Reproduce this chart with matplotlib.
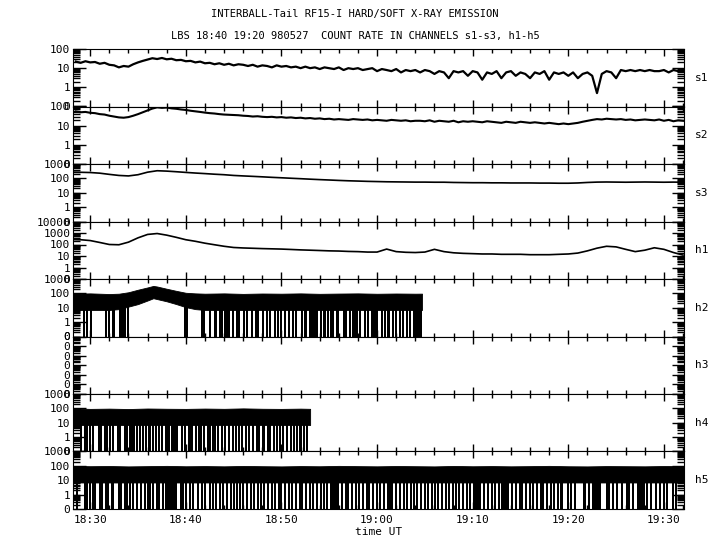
import numpy as np
import matplotlib.pyplot as plt
from matplotlib.ticker import FixedLocator, LogLocator, NullFormatter

plt.rcParams['font.family'] = 'DejaVu Sans Mono'

# time in minutes after 18:00 UT
t_fine = np.arange(28.5, 92.01, 0.5)
t_coarse = np.arange(28, 92.01, 1.0)

# soft channels (counts)
s1 = [22, 19, 23, 20, 21, 17, 19, 15, 14, 11, 13, 12,
      16, 20, 24, 28, 33, 30, 34, 29, 31, 26, 27, 23,
      24, 20, 22, 18, 19, 16, 18, 15, 17, 14, 16, 15,
      13, 15, 12, 14, 13, 11, 14, 12, 13, 11, 12, 10,
      12, 10, 11, 9, 11, 10, 9, 11, 8, 10, 9, 10,
      8, 9, 10, 7, 9, 8, 7, 9, 6, 8, 7, 8,
      6, 8, 7, 5, 7, 6, 3, 7, 6, 7, 4, 7,
      6, 2.5, 6, 5, 7, 3, 6, 7, 4, 6, 5, 3,
      6, 5, 7, 2.5, 6, 5, 6, 4, 6, 3, 5, 6,
      4, 0.5, 5, 7, 6, 3, 8, 7, 8, 7, 8, 7,
      8, 7, 7, 8, 6, 8, 7, 7]
s2 = [55, 50, 52, 47, 45, 40, 38, 33, 30, 27, 26, 28,
      33, 40, 50, 62, 78, 90, 85, 88, 80, 76, 70, 66,
      60, 56, 52, 48, 45, 43, 40, 38, 37, 36, 35, 33,
      32, 30, 31, 29, 28, 29, 27, 28, 26, 27, 25, 26,
      24, 25, 23, 24, 22, 23, 21, 22, 21, 20, 22, 21,
      20, 21, 19, 20, 19, 18, 20, 19, 18, 19, 17, 18,
      18, 17, 19, 16, 18, 17, 16, 18, 15, 17, 16, 17,
      16, 15, 17, 16, 15, 14, 16, 15, 14, 16, 15, 14,
      15, 14, 13, 14, 13, 12, 13, 12, 13, 14, 16, 18,
      20, 22, 21, 23, 22, 21, 22, 20, 21, 19, 20, 21,
      20, 19, 21, 18, 20, 17, 19, 18]
s3 = [270, 265, 255, 230, 190, 160, 148, 180, 270, 340, 320, 290, 260,
      235, 215, 195, 180, 160, 148, 138, 128, 118, 110, 102, 95, 88,
      82, 77, 72, 68, 65, 62, 60, 58, 57, 56, 55, 55, 54, 54, 52,
      51, 50, 50, 49, 49, 48, 48, 48, 47, 47, 46, 46, 48, 52, 55,
      56, 55, 54, 55, 56, 55, 54, 55, 54]
h1 = [280, 260, 220, 150, 100, 95, 160, 380, 750, 900, 650, 420, 260,
      190, 130, 95, 70, 55, 50, 47, 44, 42, 40, 37, 34, 32,
      30, 28, 27, 25, 24, 22, 22, 40, 24, 21, 20, 22, 38, 24, 19,
      17, 16, 15, 15, 14, 14, 14, 13, 13, 13, 14, 15, 18, 28, 48,
      70, 62, 38, 24, 32, 52, 38, 20, 12]

# hard channels: band envelope (counts) and times where the rate drops to 0
h2_t = [28.2, 30, 32, 33, 34, 35, 36, 36.6, 37, 38, 39, 40, 41, 42, 44,
        46, 48, 50, 52, 54, 56, 58, 60, 62, 64, 64.7]
h2_top = [95, 100, 90, 95, 120, 180, 260, 330, 300, 210, 150, 110, 100, 95, 100,
          92, 98, 95, 100, 93, 97, 100, 94, 98, 95, 96]
h2_bot = [7, 7, 7, 8, 12, 18, 32, 46, 40, 28, 18, 11, 8, 7, 7,
          7, 7, 7, 7, 7, 7, 7, 7, 7, 7, 7]
h2_drops = [29.4, 29.7, 30.1, 31.7, 31.95, 32.4, 32.5, 33.1, 33.3, 33.5, 33.6, 34.0,
            39.9, 40.1, 41.7, 41.8, 41.9, 42.5, 43.0, 43.2, 43.6, 43.8, 44.1, 44.2,
            44.35, 44.5, 44.9, 45.3, 45.6, 46.1, 46.4, 46.9, 47.3, 47.6, 48.1, 48.5,
            48.8, 49.3, 49.6, 50.0, 50.4, 50.8, 51.2, 51.5, 52.1, 52.5, 52.6, 53.0,
            53.2, 53.3, 53.5, 53.7, 54.1, 54.4, 54.6, 54.9, 55.2, 55.4, 55.8, 55.9,
            56.5, 56.8, 57.2, 57.5, 57.7, 57.9, 58.2, 58.7, 59.1, 60.5, 60.8, 61.1,
            61.3, 61.7, 62.0, 62.4, 62.7, 63.1, 63.4]
h2_spans = [(59.4, 60.1), (63.8, 64.7)]

h4_t = [28.2, 30, 32, 34, 36, 38, 40, 42, 44, 46, 48, 50, 52, 53.0]
h4_top = [100, 92, 96, 90, 98, 94, 92, 97, 93, 100, 94, 92, 96, 93]
h4_bot = [7, 7, 7, 7, 7, 7, 7, 7, 7, 7, 7, 7, 7, 7]
h4_drops = [29.0, 29.5, 29.7, 30.0, 30.3, 30.9, 31.1, 31.5, 31.8, 32.1, 32.4, 32.9,
            33.1, 33.6, 33.8, 34.2, 34.4, 34.6, 34.9, 35.2, 35.5, 35.8, 36.1, 36.3,
            36.6, 36.9, 37.2, 37.5, 39.6, 39.9, 41.1, 41.4, 41.6, 41.9, 42.3, 42.5,
            42.8, 43.1, 43.4, 43.8, 44.1, 44.5, 44.9, 45.2, 45.6, 45.9, 46.3, 46.6,
            47.0, 47.4, 47.7, 48.6, 48.8, 49.2, 49.5, 49.9, 50.2, 50.6, 51.0, 51.3,
            51.6, 52.4, 52.7]
h4_spans = [(37.8, 38.3), (38.5, 39.2), (40.2, 40.8), (48.0, 48.3), (51.8, 52.2)]

h5_t = [28.2, 30, 32, 34, 36, 38, 40, 42, 44, 46, 48, 50, 52, 54, 56, 58, 60,
        62, 64, 66, 68, 70, 72, 74, 76, 78, 80, 82, 84, 86, 88, 90, 92.1]
h5_top = [100, 95, 98, 92, 96, 100, 94, 97, 93, 99, 95, 92, 97, 94, 100, 96, 93,
          98, 95, 92, 99, 94, 97, 93, 96, 100, 94, 92, 97, 95, 93, 98, 95]
h5_bot = [7, 7, 7, 7, 7, 7, 7, 7, 7, 7, 7, 7, 7, 7, 7, 7, 7,
          7, 7, 7, 7, 7, 7, 7, 7, 7, 7, 7, 7, 7, 7, 7, 7]
h5_drops = [28.6, 29.5, 29.7, 30.0, 30.3, 30.5, 31.0, 31.2, 31.6, 31.9, 32.3, 32.4,
            33.0, 33.2, 33.6, 33.8, 34.2, 34.5, 34.9, 35.3, 35.7, 36.0, 36.3, 36.6,
            37.0, 37.2, 37.6, 39.5, 39.7, 40.0, 40.4, 40.8, 41.3, 41.7, 42.0, 42.5,
            42.8, 43.2, 43.6, 43.9, 44.3, 44.7, 45.0, 45.4, 45.7, 46.0, 46.4, 46.8,
            47.1, 47.5, 47.9, 48.2, 48.6, 49.0, 49.3, 49.7, 50.0, 50.4, 50.8, 51.1,
            51.5, 51.9, 52.2, 52.6, 53.0, 53.3, 53.7, 54.1, 54.4, 54.8, 56.3, 56.7,
            57.0, 57.4, 57.8, 58.1, 58.5, 58.9, 59.2, 59.6, 60.0, 60.3, 60.7, 62.0,
            62.4, 62.8, 63.1, 63.5, 63.9, 64.2, 64.6, 65.0, 65.3, 65.7, 66.1, 66.4,
            66.8, 67.2, 67.5, 67.9, 68.3, 68.6, 69.0, 69.4, 69.7, 71.2, 71.6, 72.0,
            72.3, 72.7, 74.1, 74.5, 74.9, 75.2, 75.6, 76.0, 76.3, 76.7, 77.1, 77.4,
            77.8, 78.2, 78.5, 78.9, 80.0, 80.3, 80.7, 82.2, 82.6, 82.8, 82.9, 83.1,
            83.3, 84.0, 84.3, 84.7, 85.1, 85.6, 86.1, 86.4, 86.8, 88.2, 88.7, 89.2,
            89.6, 90.0, 90.3, 91.3]
h5_spans = [(37.8, 39.1), (55.1, 56.0), (61.0, 61.7), (70.0, 70.9), (73.0, 73.8),
            (79.1, 79.4), (81.5, 81.9), (87.2, 88.0), (90.8, 91.1)]

channels = ['s1', 's2', 's3', 'h1', 'h2', 'h3', 'h4', 'h5']
y_tops = [100, 100, 1000, 10000, 1000, 100000, 1000, 1000]
x_major = [30, 40, 50, 60, 70, 80, 90]
x_labels = ['18:30', '18:40', '18:50', '19:00', '19:10', '19:20', '19:30']


def draw_band(ax, t, top, bot, drops, spans):
    ax.fill_between(t, bot, top, color='black', lw=0.6)
    ax.vlines(drops, 0.1, np.interp(drops, t, bot), color='black', lw=1.4,
              antialiased=False)
    for a, b in spans:
        ax.fill_between([a, b], [0.1, 0.1], np.interp([a, b], t, bot),
                        color='black', lw=0)


fig, axes = plt.subplots(8, 1, figsize=(7.2, 5.5), dpi=100, sharex=True)
fig.subplots_adjust(left=73/720, right=684/720, top=1 - 49/550,
                    bottom=1 - 509/550, hspace=0)

axes[0].plot(t_fine, s1, color='black', lw=1.6)
axes[1].plot(t_fine, s2, color='black', lw=1.5)
axes[2].plot(t_coarse, s3, color='black', lw=1.2)
axes[3].plot(t_coarse, h1, color='black', lw=1.2)
draw_band(axes[4], h2_t, h2_top, h2_bot, h2_drops, h2_spans)
draw_band(axes[6], h4_t, h4_top, h4_bot, h4_drops, h4_spans)
draw_band(axes[7], h5_t, h5_top, h5_bot, h5_drops, h5_spans)

for ax, name, top in zip(axes, channels, y_tops):
    ax.set_yscale('log')
    ax.set_ylim(0.1, top)
    ndec = int(round(np.log10(top))) + 2
    decades = [10.0 ** (k - 1) for k in range(ndec)]
    if name == 'h3':
        labels = ['0'] * ndec
    else:
        labels = ['0'] + [str(int(round(d))) for d in decades[1:]]
    ax.yaxis.set_major_locator(FixedLocator(decades))
    ax.set_yticklabels(labels)
    ax.yaxis.set_minor_locator(LogLocator(base=10, subs=np.arange(2, 10), numticks=20))
    ax.yaxis.set_minor_formatter(NullFormatter())
    ax.tick_params(axis='y', which='both', direction='in', left=True, right=True,
                   labelsize=8, pad=2, width=1)
    ax.tick_params(axis='y', which='major', length=9)
    ax.tick_params(axis='y', which='minor', length=5)
    ax.tick_params(axis='x', which='both', direction='in', top=True, bottom=True, width=1)
    ax.tick_params(axis='x', which='major', length=5)
    ax.tick_params(axis='x', which='minor', length=3)
    ax.text(1.018, 0.5, name, transform=ax.transAxes, va='center', ha='left',
            fontsize=8)

ax = axes[-1]
ax.set_xlim(28.2, 92.1)
ax.set_xticks(x_major)
ax.set_xticklabels(x_labels)
ax.xaxis.set_minor_locator(FixedLocator(np.arange(28, 93, 2)))
ax.tick_params(axis='x', labelsize=8, pad=4)
ax.set_xlabel('time UT', fontsize=8, labelpad=2)

fig.text(0.493, 1 - 14/550, 'INTERBALL-Tail RF15-I HARD/SOFT X-RAY EMISSION',
         ha='center', va='center', fontsize=7.5)
fig.text(0.493, 1 - 36/550, 'LBS 18:40 19:20 980527  COUNT RATE IN CHANNELS s1-s3, h1-h5',
         ha='center', va='center', fontsize=7.5)

fig.savefig('out.png', dpi=100)
